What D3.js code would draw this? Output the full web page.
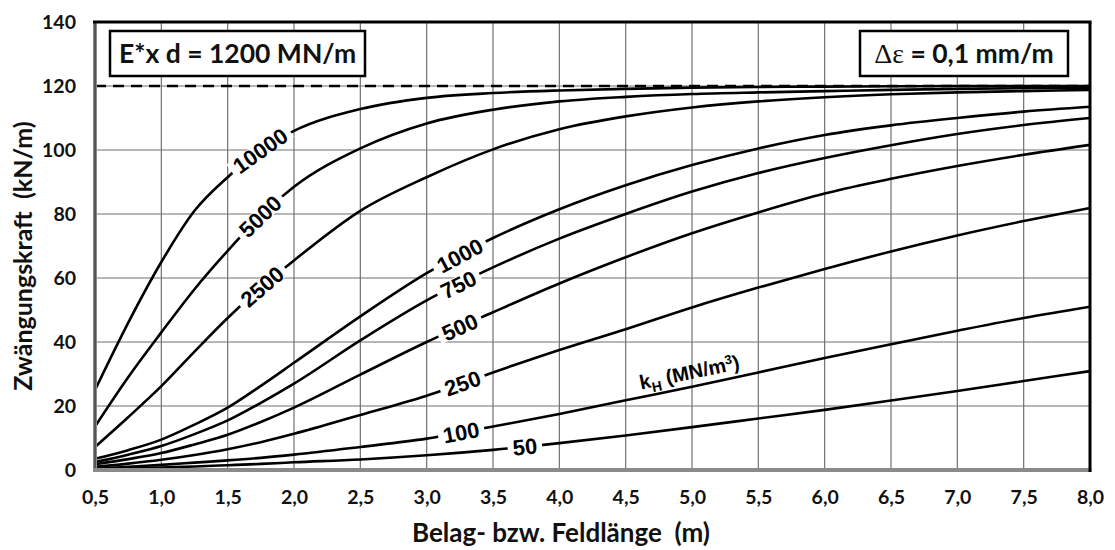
<!DOCTYPE html>
<html>
<head>
<meta charset="utf-8">
<script src="https://cdn.jsdelivr.net/npm/d3@7"></script>
<style>
  body { margin: 0; background: #fff; }
  svg { display: block; }
  .tick text { font-family: Lato, "Open Sans", sans-serif; font-weight: 700; font-size: 19.5px; fill: #111; }
</style>
</head>
<body>
<svg id="chart" width="1115" height="550"></svg>
<script>
// Field length (m) at which every curve is sampled
const lengths = [0.5, 0.75, 1.0, 1.25, 1.5, 1.75, 2.0, 2.5, 3.0, 3.5, 4.0, 4.5, 5.0, 5.5, 6.0, 6.5, 7.0, 7.5, 8.0];

// Restraint force (kN/m) for each horizontal bedding modulus k_H (MN/m³)
const kH10000 = [25, 46, 65, 81, 91.5, 100, 106, 112.8, 116.3, 117.8, 118.6, 119.1, 119.5, 119.7, 119.8, 119.9, 120, 120, 120];
const kH5000  = [13.6, 29, 43, 56.5, 68.5, 79.5, 88.5, 100.5, 108.3, 112.6, 115.2, 116.6, 117.5, 118, 118.4, 118.8, 119.1, 119.3, 119.5];
const kH2500  = [7.2, 16.5, 26.2, 37, 47.5, 57, 65.5, 81, 91.5, 100.2, 106.5, 110.5, 113.3, 115.2, 116.5, 117.4, 118, 118.4, 118.8];
const kH1000  = [3.5, 6.2, 9.5, 14.2, 19.5, 26.3, 33.5, 48, 61.5, 72.5, 81.5, 89, 95.3, 100.5, 104.7, 107.7, 110, 112, 113.5];
const kH750   = [2.5, 4.8, 7.5, 11.2, 15.5, 21, 27, 40.5, 53, 63.3, 72.3, 80, 87, 92.8, 97.5, 101.5, 105, 107.8, 110];
const kH500   = [1.8, 3.4, 5.3, 8, 11, 15, 19.5, 29.8, 40, 49.3, 58.3, 66.5, 74, 80.5, 86.4, 91, 95, 98.5, 101.6];
const kH250   = [1, 2, 3.2, 4.7, 6.5, 8.7, 11.3, 17.2, 23.2, 30.5, 37.5, 44, 50.8, 57, 62.8, 68.3, 73.3, 77.8, 81.9];
const kH100   = [0.4, 1, 1.6, 2.3, 3, 3.8, 4.8, 7.2, 9.8, 13.6, 17.5, 21.8, 26, 30.5, 35, 39.3, 43.5, 47.5, 51];
const kH50    = [0.2, 0.5, 0.8, 1.1, 1.5, 1.9, 2.4, 3.3, 4.6, 6.3, 8.4, 10.8, 13.4, 16.1, 18.8, 21.7, 24.7, 27.8, 30.9];

const curveNames = ["10000", "5000", "2500", "1000", "750", "500", "250", "100", "50"];
// Field length at which each curve carries its k_H label
const labelLengths = [1.745, 1.745, 1.76, 3.25, 3.24, 3.25, 3.27, 3.26, 3.74];

const xTicks = [0.5, 1.0, 1.5, 2.0, 2.5, 3.0, 3.5, 4.0, 4.5, 5.0, 5.5, 6.0, 6.5, 7.0, 7.5, 8.0];
const yTicks = [0, 20, 40, 60, 80, 100, 120, 140];
const maxForce = 120;                    // upper limit E*·d·Δε
const unitLabelAt = [4.98, 30.6];        // position of the k_H (MN/m³) caption

const seriesValues = [kH10000, kH5000, kH2500, kH1000, kH750, kH500, kH250, kH100, kH50];
const series = curveNames.map((name, i) => ({
  name,
  labelAt: labelLengths[i],
  points: lengths.map((l, j) => ({ l, f: seriesValues[i][j] }))
}));

const svg = d3.select("#chart");
const plot = { left: 95, right: 1090, top: 22, bottom: 470 };

const x = d3.scaleLinear().domain([0.5, 8]).range([plot.left, plot.right]);
const y = d3.scaleLinear().domain([0, 140]).range([plot.bottom, plot.top]);

const deLocale = d3.formatLocale({ decimal: ",", thousands: ".", grouping: [3], currency: ["", " €"] });
const fmt1 = deLocale.format(".1f");

// grid
const grid = svg.append("g").attr("stroke", "#707070").attr("stroke-width", 1.2);
grid.selectAll("line.v").data(xTicks).join("line")
  .attr("x1", d => x(d)).attr("x2", d => x(d))
  .attr("y1", plot.top).attr("y2", plot.bottom);
grid.selectAll("line.h").data(yTicks).join("line")
  .attr("x1", plot.left).attr("x2", plot.right)
  .attr("y1", d => y(d)).attr("y2", d => y(d));

// axes (labels only, frame drawn separately)
const xAxis = svg.append("g").attr("transform", `translate(0,${plot.bottom})`)
  .call(d3.axisBottom(x).tickValues(xTicks).tickFormat(fmt1).tickSize(0).tickPadding(20));
const yAxis = svg.append("g").attr("transform", `translate(${plot.left},0)`)
  .call(d3.axisLeft(y).tickValues(yTicks).tickSize(0).tickPadding(19));
[xAxis, yAxis].forEach(a => a.select(".domain").remove());

// limit line
svg.append("line")
  .attr("x1", plot.left).attr("x2", plot.right)
  .attr("y1", y(maxForce)).attr("y2", y(maxForce))
  .attr("stroke", "#000").attr("stroke-width", 2.6).attr("stroke-dasharray", "11,7");

// curves
const line = d3.line().x(d => x(d.l)).y(d => y(d.f)).curve(d3.curveMonotoneX);
svg.append("g").selectAll("path").data(series).join("path")
  .attr("d", d => line(d.points))
  .attr("fill", "none").attr("stroke", "#000").attr("stroke-width", 2.6);

// curve labels placed on the curve, aligned with its slope
function valueAt(pts, l) {
  for (let i = 1; i < pts.length; i++) {
    if (l <= pts[i].l) {
      const a = pts[i - 1], b = pts[i];
      return a.f + (b.f - a.f) * (l - a.l) / (b.l - a.l);
    }
  }
  return pts[pts.length - 1].f;
}
function angleAt(pts, l) {
  const d = 0.12;
  const x0 = x(l - d), x1 = x(l + d);
  const y0 = y(valueAt(pts, l - d)), y1 = y(valueAt(pts, l + d));
  return Math.atan2(y1 - y0, x1 - x0) * 180 / Math.PI;
}

const labels = svg.append("g");
series.forEach(s => {
  const px = x(s.labelAt), py = y(valueAt(s.points, s.labelAt));
  const g = labels.append("g")
    .attr("transform", `translate(${px},${py}) rotate(${angleAt(s.points, s.labelAt)})`);
  const bg = g.append("rect").attr("fill", "#fff");
  const t = g.append("text")
    .attr("text-anchor", "middle").attr("dy", "0.36em")
    .attr("font-family", "'Liberation Sans', Arial, sans-serif")
    .attr("font-weight", 700).attr("font-size", 22).attr("fill", "#000")
    .text(s.name);
  const bb = t.node().getBBox();
  bg.attr("x", bb.x - 5).attr("y", -8).attr("width", bb.width + 10).attr("height", 16);
});

// k_H unit caption
{
  const ref = series[7].points;
  const ang = angleAt(ref, unitLabelAt[0]);
  const g = svg.append("g")
    .attr("transform", `translate(${x(unitLabelAt[0])},${y(unitLabelAt[1])}) rotate(${ang})`);
  const t = g.append("text")
    .attr("text-anchor", "middle").attr("dy", "0.36em")
    .attr("font-family", "'Liberation Sans', Arial, sans-serif")
    .attr("font-weight", 700).attr("font-size", 20).attr("fill", "#000");
  t.append("tspan").text("k");
  t.append("tspan").attr("font-size", 14).attr("dy", 5).text("H");
  t.append("tspan").attr("dy", -5).text(" (MN/m");
  t.append("tspan").attr("font-size", 13).attr("dy", -7).text("3");
  t.append("tspan").attr("dy", 7).text(")");
}

// frame
const frame = svg.append("g").attr("fill", "none");
frame.append("line").attr("x1", plot.left).attr("x2", plot.left).attr("y1", plot.top).attr("y2", plot.bottom)
  .attr("stroke", "#8a8a8a").attr("stroke-width", 4);
frame.append("line").attr("x1", plot.left).attr("x2", plot.left).attr("y1", plot.top).attr("y2", plot.bottom)
  .attr("stroke", "#222").attr("stroke-width", 1);
frame.append("line").attr("x1", plot.left - 2).attr("x2", plot.right + 1.5).attr("y1", plot.bottom).attr("y2", plot.bottom)
  .attr("stroke", "#8a8a8a").attr("stroke-width", 4);
frame.append("line").attr("x1", plot.left - 2).attr("x2", plot.right + 1.5).attr("y1", plot.top).attr("y2", plot.top)
  .attr("stroke", "#000").attr("stroke-width", 3);
frame.append("line").attr("x1", plot.right).attr("x2", plot.right).attr("y1", plot.top).attr("y2", plot.bottom + 2)
  .attr("stroke", "#000").attr("stroke-width", 3);

// parameter boxes
function box(x0, w, build) {
  svg.append("rect").attr("x", x0).attr("y", 31).attr("width", w).attr("height", 45)
    .attr("fill", "#fff").attr("stroke", "#000").attr("stroke-width", 2.5);
  const t = svg.append("text").attr("x", x0 + w / 2).attr("y", 63)
    .attr("text-anchor", "middle")
    .attr("font-family", "Lato, 'Open Sans', sans-serif").attr("font-weight", 700)
    .attr("font-size", 26.5).attr("fill", "#111");
  build(t);
}
box(110, 255, t => t.text("E*x d = 1200 MN/m"));
box(860, 208, t => {
  t.append("tspan").attr("font-family", "'Liberation Serif', serif").attr("font-weight", 400)
    .attr("font-size", 28).text("Δε");
  t.append("tspan").text(" = 0,1 mm/m");
});

// axis titles
svg.append("text").attr("x", 561).attr("y", 542)
  .attr("text-anchor", "middle")
  .attr("font-family", "Lato, 'Open Sans', sans-serif").attr("font-weight", 700)
  .attr("font-size", 26).attr("fill", "#111")
  .attr("xml:space", "preserve")
  .text("Belag- bzw. Feldlänge  (m)");
svg.append("text").attr("transform", `translate(32,256) rotate(-90)`)
  .attr("text-anchor", "middle")
  .attr("font-family", "Lato, 'Open Sans', sans-serif").attr("font-weight", 700)
  .attr("font-size", 25).attr("fill", "#111")
  .attr("xml:space", "preserve")
  .text("Zwängungskraft  (kN/m)");
</script>
</body>
</html>
